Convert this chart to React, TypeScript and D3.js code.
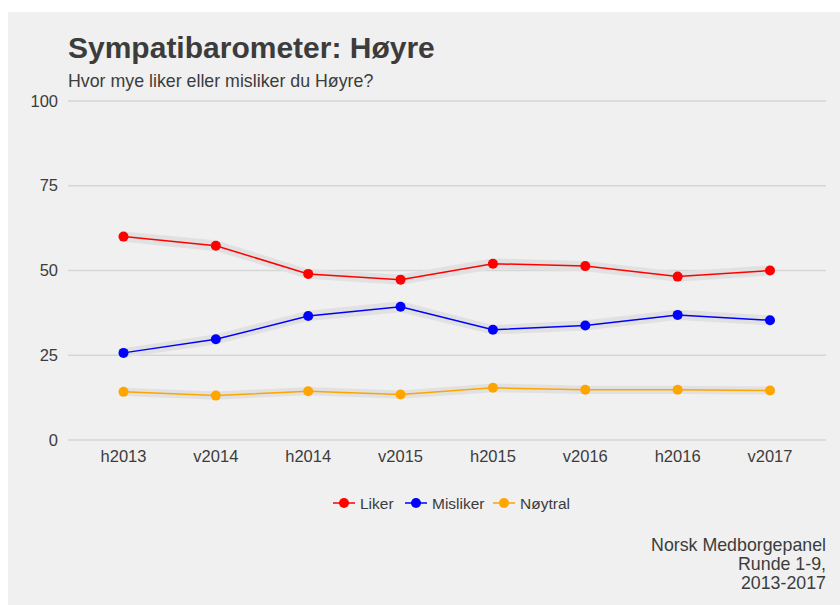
import React from 'react';
import * as d3 from 'd3';

const rounds = ['h2013', 'v2014', 'h2014', 'v2015', 'h2015', 'v2016', 'h2016', 'v2017'];
const liker = [60.0, 57.3, 49.0, 47.3, 52.0, 51.3, 48.2, 50.0];
const misliker = [25.7, 29.7, 36.6, 39.3, 32.5, 33.8, 36.9, 35.3];
const noytral = [14.2, 13.1, 14.4, 13.4, 15.4, 14.8, 14.8, 14.6];
// half width of the grey confidence band
const likerCi = [1.5, 1.6, 1.4, 1.5, 1.6, 1.5, 1.5, 1.5];
const mislikerCi = [1.4, 1.5, 1.5, 1.6, 1.4, 1.5, 1.5, 1.5];
const noytralCi = [1.2, 1.2, 1.2, 1.2, 1.3, 1.2, 1.2, 1.2];
const yTicks = [0, 25, 50, 75, 100];

const series = [
  { name: 'Liker', values: liker, ci: likerCi, color: '#ff0000' },
  { name: 'Misliker', values: misliker, ci: mislikerCi, color: '#0000ff' },
  { name: 'Nøytral', values: noytral, ci: noytralCi, color: '#ffa500' },
];

const W = 840;
const H = 605;
const font = '"Liberation Sans", Arial, sans-serif';

export default function App() {
  const x = d3.scalePoint<string>().domain(rounds).range([123.5, 770]);
  const y = d3.scaleLinear().domain([0, 100]).range([440, 101]);

  const line = d3.line<number>()
    .x((d, i) => x(rounds[i]) as number)
    .y(d => y(d));

  const band = (s: typeof series[0]) =>
    d3.area<number>()
      .x((d, i) => x(rounds[i]) as number)
      .y0((d, i) => y(d - s.ci[i]))
      .y1((d, i) => y(d + s.ci[i]))(s.values) || '';

  const legendX = [333, 405, 493];

  return (
    <svg width={W} height={H} style={{ position: 'absolute', left: 0, top: 0 }} fontFamily={font}>
      <rect x={8} y={12} width={W - 8} height={H - 12} fill="#f0f0f0" />
      <text x={68} y={58} fontSize={30} fontWeight="bold" fill="#3c3c3c">Sympatibarometer: Høyre</text>
      <text x={68} y={87} fontSize={17.8} fill="#3c3c3c">Hvor mye liker eller misliker du Høyre?</text>

      {yTicks.map(t => (
        <g key={t}>
          <line x1={68} x2={826} y1={y(t)} y2={y(t)} stroke="#d6d6d6" strokeWidth={1.5} />
          <text x={58} y={y(t) + 5.5} fontSize={16.5} textAnchor="end" fill="#3c3c3c">{t}</text>
        </g>
      ))}
      {rounds.map(r => (
        <text key={r} x={x(r)} y={462} fontSize={16.5} textAnchor="middle" fill="#3c3c3c">{r}</text>
      ))}

      {series.map(s => (
        <path key={s.name + 'band'} d={band(s)} fill="#e1e1e1" />
      ))}
      {series.map(s => (
        <g key={s.name}>
          <path d={line(s.values) || ''} fill="none" stroke={s.color} strokeWidth={1.5} />
          {s.values.map((v, i) => (
            <circle key={i} cx={x(rounds[i])} cy={y(v)} r={5} fill={s.color} />
          ))}
        </g>
      ))}

      {series.map((s, i) => (
        <g key={s.name + 'leg'} transform={`translate(${legendX[i]},503)`}>
          <line x1={0} x2={22} y1={0} y2={0} stroke={s.color} strokeWidth={1.5} />
          <circle cx={11} cy={0} r={5} fill={s.color} />
          <text x={27} y={5.5} fontSize={15.5} fill="#3c3c3c">{s.name}</text>
        </g>
      ))}

      <text x={826} y={551} fontSize={17.8} textAnchor="end" fill="#3c3c3c">Norsk Medborgepanel</text>
      <text x={826} y={570} fontSize={17.8} textAnchor="end" fill="#3c3c3c">Runde 1-9,</text>
      <text x={826} y={589} fontSize={17.8} textAnchor="end" fill="#3c3c3c">2013-2017</text>
    </svg>
  );
}
